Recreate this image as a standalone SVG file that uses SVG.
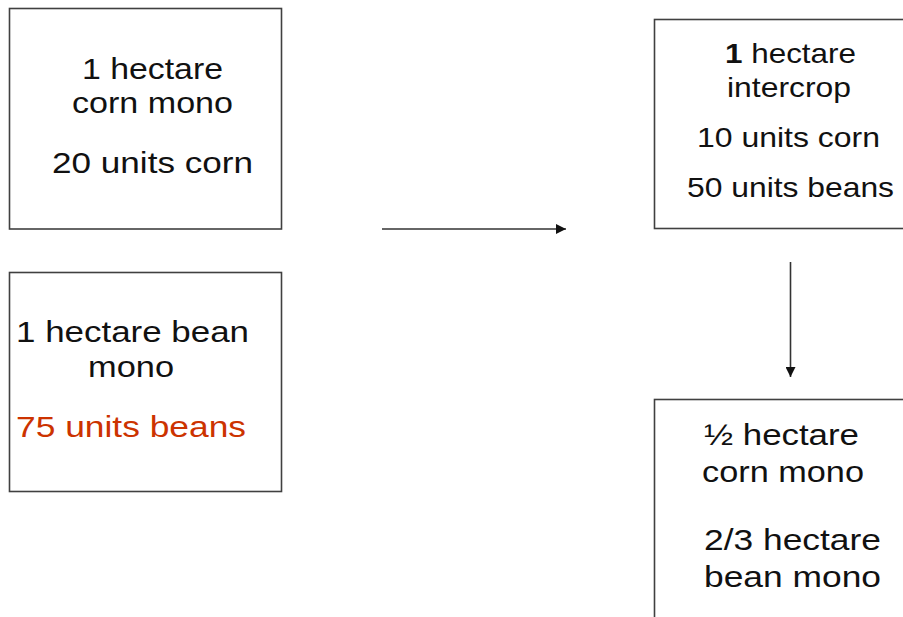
<svg xmlns="http://www.w3.org/2000/svg" width="903" height="617" viewBox="0 0 903 617">
<style>
.box{fill:#ffffff;stroke:#404040;stroke-width:1.6}
.t{font-family:"Liberation Sans",Arial,sans-serif;font-size:30px;fill:#111111}
.s{font-size:28px}
.red{fill:#cc3300}
.conn{stroke:#333333;stroke-width:1.6;fill:none}
</style>
<defs>
<marker id="ah" viewBox="0 0 10 10" refX="10" refY="5" markerWidth="11" markerHeight="10" markerUnits="userSpaceOnUse" orient="auto">
<path d="M0,0 L10,5 L0,10 Z" fill="#111111"/>
</marker>
</defs>
<rect width="903" height="617" fill="#ffffff"/>
<g id="connectors">
<line class="conn" x1="382" y1="229" x2="566" y2="229" marker-end="url(#ah)"/>
<line class="conn" x1="790.5" y1="262" x2="790.5" y2="377" marker-end="url(#ah)"/>
</g>
<g id="corn-mono">
<rect class="box" x="9.5" y="8.5" width="272" height="220.5"/>
<text class="t" x="82" y="79" textLength="141" lengthAdjust="spacingAndGlyphs">1 hectare</text>
<text class="t" x="72" y="113" textLength="161" lengthAdjust="spacingAndGlyphs">corn mono</text>
<text class="t" x="52" y="173" textLength="201" lengthAdjust="spacingAndGlyphs">20 units corn</text>
</g>
<g id="bean-mono">
<rect class="box" x="9.5" y="272.5" width="272" height="219"/>
<text class="t" x="16" y="342" textLength="233" lengthAdjust="spacingAndGlyphs">1 hectare bean</text>
<text class="t" x="88" y="377" textLength="86" lengthAdjust="spacingAndGlyphs">mono</text>
<text class="t red" x="16" y="437" textLength="230" lengthAdjust="spacingAndGlyphs">75 units beans</text>
</g>
<g id="intercrop">
<rect class="box" x="654.5" y="19.5" width="260" height="209"/>
<text class="t s" x="725" y="63" textLength="131" lengthAdjust="spacingAndGlyphs"><tspan font-weight="bold">1</tspan> hectare</text>
<text class="t s" x="727" y="97" textLength="124" lengthAdjust="spacingAndGlyphs">intercrop</text>
<text class="t s" x="697" y="147" textLength="183" lengthAdjust="spacingAndGlyphs">10 units corn</text>
<text class="t s" x="687" y="197" textLength="207" lengthAdjust="spacingAndGlyphs">50 units beans</text>
</g>
<g id="split-mono">
<rect class="box" x="654.5" y="399.5" width="260" height="230"/>
<text class="t" x="704" y="445" textLength="155" lengthAdjust="spacingAndGlyphs">½ hectare</text>
<text class="t" x="702" y="482" textLength="162" lengthAdjust="spacingAndGlyphs">corn mono</text>
<text class="t" x="704" y="550" textLength="177" lengthAdjust="spacingAndGlyphs">2/3 hectare</text>
<text class="t" x="704" y="587" textLength="177" lengthAdjust="spacingAndGlyphs">bean mono</text>
</g>
</svg>
